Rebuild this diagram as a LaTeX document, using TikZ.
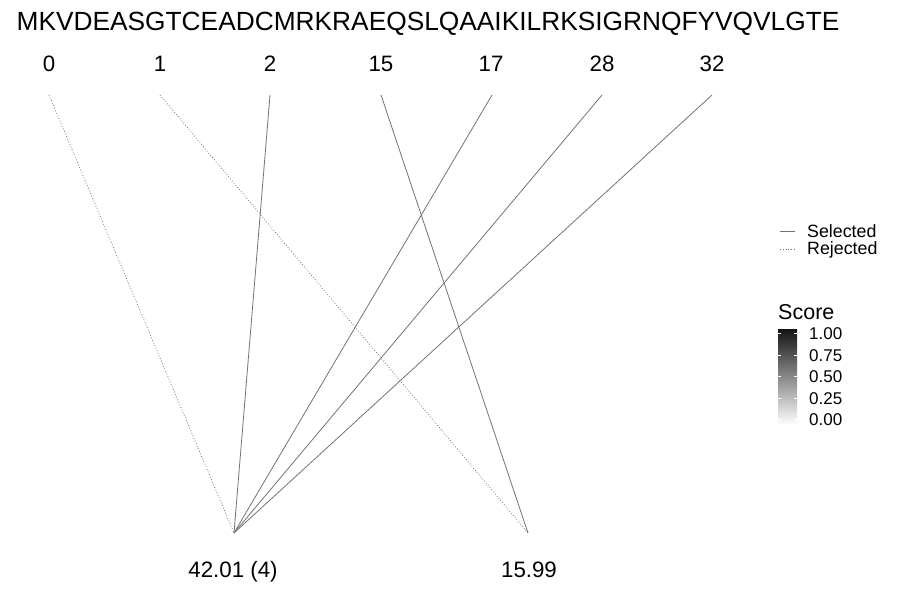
\documentclass[tikz,border=0pt]{standalone}
\usepackage{fontspec}
\setmainfont{Liberation Sans}
\begin{document}
\begin{tikzpicture}[x=1pt,y=-1pt,
  sel/.style={draw=black!55,line width=0.8pt},
  rej/.style={draw=black!55,line width=0.8pt,dotted},
  numlbl/.style={font=\fontsize{22.3}{22}\selectfont,inner sep=0pt,anchor=base},
  leglbl/.style={font=\fontsize{17.8}{18}\selectfont,inner sep=0pt,anchor=base west},
  barlbl/.style={font=\fontsize{17}{17}\selectfont,inner sep=0pt,anchor=base west}]
\useasboundingbox (0,0) rectangle (900,600);
% sequence
\node[inner sep=0pt,anchor=base,font=\fontsize{26.3}{26}\selectfont] (seq) at (428,30.5) {MKVDEASGTCEADCMRKRAEQSLQAAIKILRKSIGRNQFYVQVLGTE};
% position labels
\node[numlbl] (l0) at (49,71.5) {0};
\node[numlbl] (l1) at (160,71.5) {1};
\node[numlbl] (l2) at (270,71.5) {2};
\node[numlbl] (l15) at (381,71.5) {15};
\node[numlbl] (l17) at (491,71.5) {17};
\node[numlbl] (l28) at (602,71.5) {28};
\node[numlbl] (l32) at (712,71.5) {32};
% top endpoints
\coordinate (t0) at (49,95);
\coordinate (t1) at (160,95);
\coordinate (t2) at (270,95);
\coordinate (t15) at (381,95);
\coordinate (t17) at (492,95);
\coordinate (t28) at (602,95);
\coordinate (t32) at (712,95);
% bottom endpoints
\coordinate (bA) at (234,533);
\coordinate (bB) at (528,533);
\node[numlbl] (mA) at (233,577) {42.01 (4)};
\node[numlbl] (mB) at (529,577) {15.99};
% connectors
\draw[rej] (t0) -- (bA);
\draw[rej] (t1) -- (bB);
\draw[sel] (t2) -- (bA);
\draw[sel] (t15) -- (bB);
\draw[sel] (t17) -- (bA);
\draw[sel] (t28) -- (bA);
\draw[sel] (t32) -- (bA);
% legend
\coordinate (ls1) at (780,231);
\coordinate (le1) at (795,231);
\coordinate (ls2) at (780,249);
\coordinate (le2) at (795,249);
\draw[sel] (ls1) -- (le1);
\draw[rej] (ls2) -- (le2);
\node[leglbl] (selT) at (807,237) {Selected};
\node[leglbl] (rejT) at (807,254) {Rejected};
% colorbar
\node[inner sep=0pt,anchor=base west,font=\fontsize{21.5}{22}\selectfont] (score) at (778,319) {Score};
\shade[top color=black!92,bottom color=white] (778,329) rectangle (797,425);
\foreach \y in {333.5,355,376.5,398,419.5}{
  \draw[white,line width=0.5pt] (778,\y) -- (781,\y);
  \draw[white,line width=0.5pt] (794,\y) -- (797,\y);
}
\node[barlbl] (c100) at (809,339.5) {1.00};
\node[barlbl] (c075) at (809,361) {0.75};
\node[barlbl] (c050) at (809,382.5) {0.50};
\node[barlbl] (c025) at (809,404) {0.25};
\node[barlbl] (c000) at (809,425.5) {0.00};
\end{tikzpicture}
\end{document}
